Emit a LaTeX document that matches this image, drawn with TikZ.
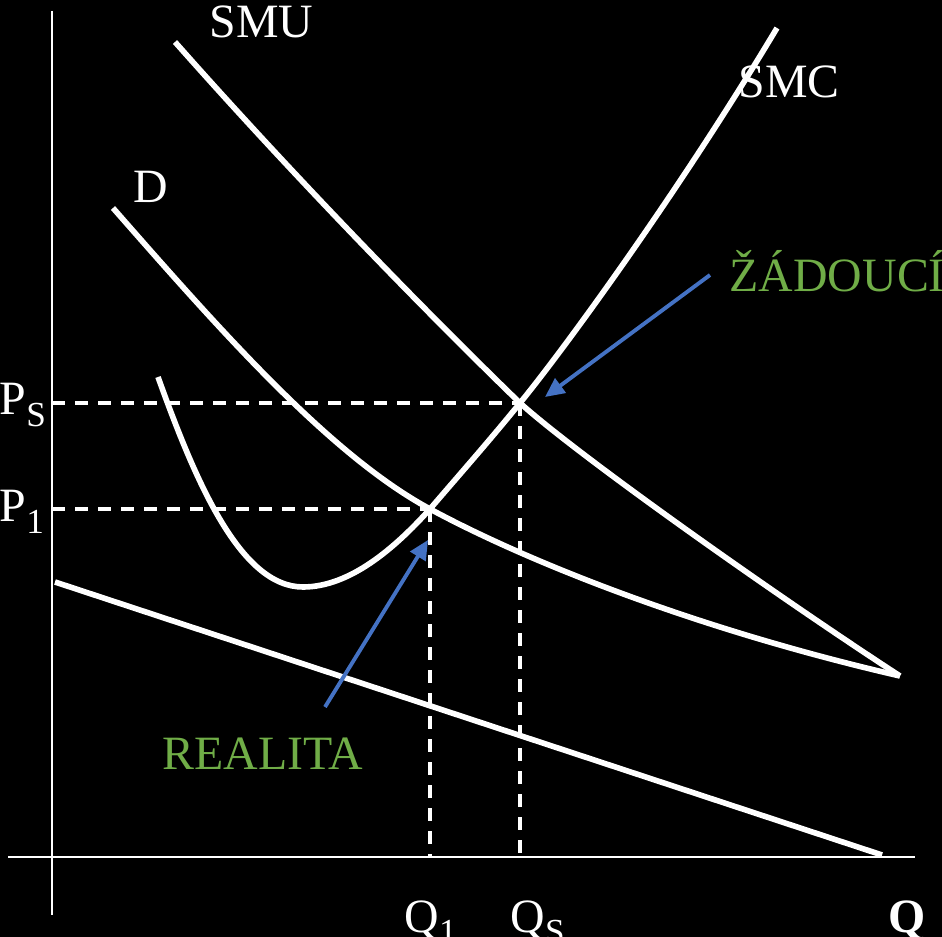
\documentclass[tikz,border=0pt]{standalone}
\usepackage{fontspec}
\setmainfont{Liberation Serif}
\usetikzlibrary{arrows.meta}
\definecolor{arrowblue}{RGB}{68,114,196}
\definecolor{labelgreen}{RGB}{112,173,71}
\newcommand{\lowsub}[1]{{\fontsize{10}{10}\selectfont\raisebox{-3.4pt}{#1}}}
\begin{document}
\begin{tikzpicture}[x=0.01cm,y=-0.01cm,
  curve/.style={white,line width=1.6pt},
  axis/.style={white,line width=0.6pt},
  guide/.style={white,line width=1.0pt,dash pattern=on 0.13cm off 0.1cm},
  pointer/.style={arrowblue,line width=1.1pt,-{Triangle[length=5.5pt,width=5pt]}},
  lbl/.style={white,font=\fontsize{13.6}{14}\selectfont,inner sep=0pt,anchor=base west},
  glbl/.style={lbl,text=labelgreen}]
\fill[black] (0,0) rectangle (942,937);
\useasboundingbox (0,0) rectangle (942,937);
\clip (0,0) rectangle (942,937);
% key points
\coordinate (E1) at (430,509);
\coordinate (Es) at (520,403);
\coordinate (Y1) at (52,509);
\coordinate (Ys) at (52,403);
\coordinate (X1) at (430,857);
\coordinate (Xs) at (520,857);
\coordinate (ytop) at (52,11);
\coordinate (ybot) at (52,915);
\coordinate (xl) at (8,857);
\coordinate (xr) at (915,857);
\coordinate (tip) at (900,676);
% axes
\draw[axis] (ytop) -- (ybot);
\draw[axis] (xl) -- (xr);
% guides
\draw[guide] (Ys) -- (Es);
\draw[guide] (Y1) -- (E1);
\draw[guide] (Es) -- (Xs);
\draw[guide] (E1) -- (X1);
% SMU
\coordinate (smu0) at (175,42);
\draw[curve] (smu0) .. controls (290,172) and (420,306) .. (Es)
  .. controls (580,457) and (780,598) .. (tip);
% D
\coordinate (d0) at (113,208);
\draw[curve] (d0) .. controls (220,330) and (330,455) .. (E1)
  .. controls (530,563) and (700,630) .. (tip);
% SMC
\coordinate (smc0) at (158,377);
\coordinate (smcmin) at (303,587);
\coordinate (smc1) at (777,28);
\draw[curve] (smc0) .. controls (195,480) and (240,587) .. (smcmin)
  .. controls (350,587) and (395,548) .. (E1)
  .. controls (460,474) and (490,440) .. (Es)
  .. controls (565,348) and (680,190) .. (smc1);
% lower line
\coordinate (l1) at (55,582);
\coordinate (l2) at (882,855);
\draw[curve] (l1) -- (l2);
% labels
\node[lbl] (smu) at (209,38) {SMU};
\node[lbl] (d) at (133,203) {D};
\node[lbl] (smc) at (738,98) {SMC};
\node[glbl] (zad) at (729,292) {ŽÁDOUCÍ};
\node[glbl] (real) at (162,770) {REALITA};
\node[lbl] (ps) at (-1,415) {P\lowsub{S}};
\node[lbl] (p1) at (-1,522) {P\lowsub{1}};
\node[lbl] (q1) at (404,932) {Q\lowsub{1}};
\node[lbl] (qs) at (510,932) {Q\lowsub{S}};
\node[lbl] (q) at (888,932) {\textbf{Q}};
% pointers
\coordinate (zt) at (545,397);
\coordinate (zs) at (710,275);
\coordinate (rt) at (428,540);
\coordinate (rs) at (325,707);
\draw[pointer] (zs) -- (zt);
\draw[pointer] (rs) -- (rt);
\end{tikzpicture}
\end{document}
